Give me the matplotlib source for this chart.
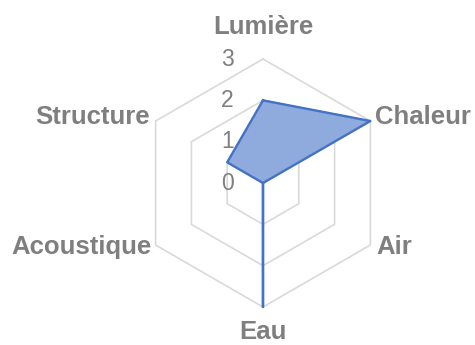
import numpy as np
import matplotlib
matplotlib.use("Agg")
import matplotlib.pyplot as plt

categories = ["Lumière", "Chaleur", "Air", "Eau", "Acoustique", "Structure"]
values = [2, 3, 0, 3, 0, 1]
ticks = [0, 1, 2, 3]
tick_labels = ["0", "1", "2", "3"]

fig = plt.figure(figsize=(4.75, 3.45), dpi=100)
ax = fig.add_axes([0.2926, 0.1101, 0.5221, 0.7188], projection="polar")
ax.set_theta_zero_location("N")
ax.set_theta_direction(-1)
ax.set_ylim(0, 3)
ax.grid(False)
ax.set_xticks([])
ax.set_yticks([])
ax.spines["polar"].set_visible(False)
ax.patch.set_alpha(0)

n = len(categories)
angles = np.linspace(0, 2 * np.pi, n, endpoint=False)
closed = np.concatenate([angles, angles[:1]])

grid_color = "#D9D9D9"
for t in ticks[1:]:
    ax.plot(closed, [t] * (n + 1), color=grid_color, lw=1.2, zorder=1, clip_on=False)

vals = np.array(values + values[:1], dtype=float)
ax.fill(closed, vals, color="#8FAADC", zorder=2, clip_on=False)
ax.plot(closed, vals, color="#4472C4", lw=1.7, zorder=3, clip_on=False)

text_color = "#7F7F7F"
for t, lab in zip(ticks, tick_labels):
    ax.annotate(lab, xy=(0, t), xytext=(-21, 0), textcoords="offset points",
                ha="right", va="center", fontsize=16.5, color=text_color,
                family="Liberation Sans", annotation_clip=False)

offsets = [(0, 23, "center"), (3, 3, "left"), (4, -1.5, "left"),
           (0, -18, "center"), (-3, -1.5, "right"), (-4, 3, "right")]
for ang, lab, (dx, dy, ha) in zip(angles, categories, offsets):
    ax.annotate(lab, xy=(ang, 3), xytext=(dx, dy), textcoords="offset points",
                ha=ha, va="center", fontsize=18.5, fontweight="bold",
                color=text_color, family="Liberation Sans", annotation_clip=False)

fig.savefig("out.png", dpi=100)
